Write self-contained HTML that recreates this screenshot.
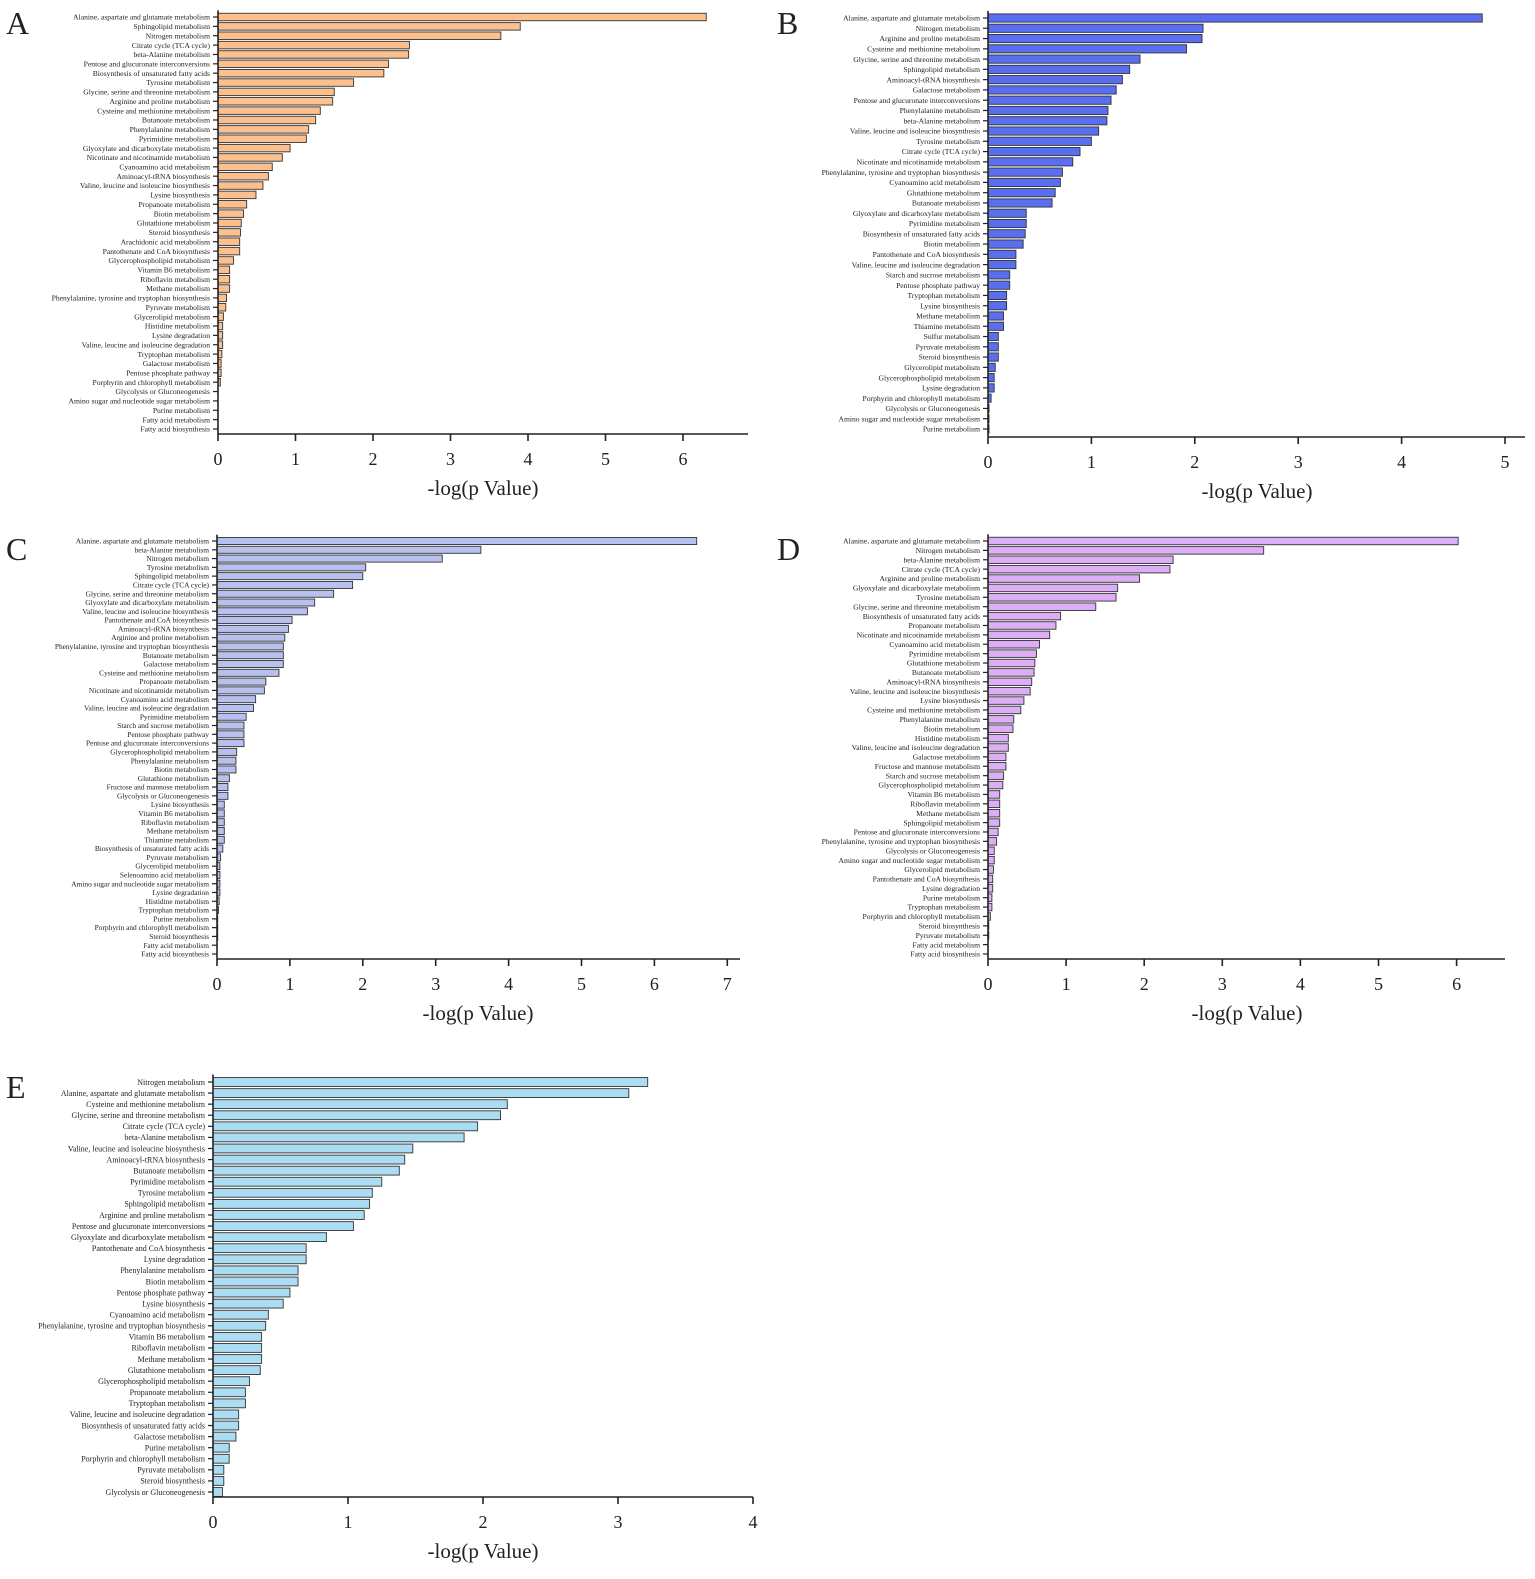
<!DOCTYPE html>
<html><head><meta charset="utf-8"><style>
body{margin:0;background:#fff;width:1535px;height:1574px;overflow:hidden}
svg text{font-family:"Liberation Serif",serif;fill:#222}
</style></head><body>
<svg id="fig" width="1535" height="1574" xmlns="http://www.w3.org/2000/svg"></svg>
<script>
const catsA=["Alanine, aspartate and glutamate metabolism","Sphingolipid metabolism","Nitrogen metabolism","Citrate cycle (TCA cycle)","beta-Alanine metabolism","Pentose and glucuronate interconversions","Biosynthesis of unsaturated fatty acids","Tyrosine metabolism","Glycine, serine and threonine metabolism","Arginine and proline metabolism","Cysteine and methionine metabolism","Butanoate metabolism","Phenylalanine metabolism","Pyrimidine metabolism","Glyoxylate and dicarboxylate metabolism","Nicotinate and nicotinamide metabolism","Cyanoamino acid metabolism","Aminoacyl-tRNA biosynthesis","Valine, leucine and isoleucine biosynthesis","Lysine biosynthesis","Propanoate metabolism","Biotin metabolism","Glutathione metabolism","Steroid biosynthesis","Arachidonic acid metabolism","Pantothenate and CoA biosynthesis","Glycerophospholipid metabolism","Vitamin B6 metabolism","Riboflavin metabolism","Methane metabolism","Phenylalanine, tyrosine and tryptophan biosynthesis","Pyruvate metabolism","Glycerolipid metabolism","Histidine metabolism","Lysine degradation","Valine, leucine and isoleucine degradation","Tryptophan metabolism","Galactose metabolism","Pentose phosphate pathway","Porphyrin and chlorophyll metabolism","Glycolysis or Gluconeogenesis","Amino sugar and nucleotide sugar metabolism","Purine metabolism","Fatty acid metabolism","Fatty acid biosynthesis"];
const valsA=[6.3,3.9,3.65,2.47,2.46,2.2,2.14,1.75,1.5,1.48,1.32,1.26,1.17,1.14,0.93,0.83,0.7,0.65,0.58,0.49,0.37,0.33,0.3,0.29,0.28,0.28,0.2,0.15,0.15,0.15,0.11,0.1,0.07,0.06,0.06,0.06,0.05,0.04,0.04,0.03,0,0,0,0,0];
const ticksA=[0,1,2,3,4,5,6];
const catsB=["Alanine, aspartate and glutamate metabolism","Nitrogen metabolism","Arginine and proline metabolism","Cysteine and methionine metabolism","Glycine, serine and threonine metabolism","Sphingolipid metabolism","Aminoacyl-tRNA biosynthesis","Galactose metabolism","Pentose and glucuronate interconversions","Phenylalanine metabolism","beta-Alanine metabolism","Valine, leucine and isoleucine biosynthesis","Tyrosine metabolism","Citrate cycle (TCA cycle)","Nicotinate and nicotinamide metabolism","Phenylalanine, tyrosine and tryptophan biosynthesis","Cyanoamino acid metabolism","Glutathione metabolism","Butanoate metabolism","Glyoxylate and dicarboxylate metabolism","Pyrimidine metabolism","Biosynthesis of unsaturated fatty acids","Biotin metabolism","Pantothenate and CoA biosynthesis","Valine, leucine and isoleucine degradation","Starch and sucrose metabolism","Pentose phosphate pathway","Tryptophan metabolism","Lysine biosynthesis","Methane metabolism","Thiamine metabolism","Sulfur metabolism","Pyruvate metabolism","Steroid biosynthesis","Glycerolipid metabolism","Glycerophospholipid metabolism","Lysine degradation","Porphyrin and chlorophyll metabolism","Glycolysis or Gluconeogenesis","Amino sugar and nucleotide sugar metabolism","Purine metabolism"];
const valsB=[4.78,2.08,2.07,1.92,1.47,1.37,1.3,1.24,1.19,1.16,1.15,1.07,1.0,0.89,0.82,0.72,0.7,0.65,0.62,0.37,0.37,0.36,0.34,0.27,0.27,0.21,0.21,0.18,0.18,0.15,0.15,0.1,0.1,0.1,0.07,0.06,0.06,0.03,0.01,0.01,0.01];
const ticksB=[0,1,2,3,4,5];
const catsC=["Alanine, aspartate and glutamate metabolism","beta-Alanine metabolism","Nitrogen metabolism","Tyrosine metabolism","Sphingolipid metabolism","Citrate cycle (TCA cycle)","Glycine, serine and threonine metabolism","Glyoxylate and dicarboxylate metabolism","Valine, leucine and isoleucine biosynthesis","Pantothenate and CoA biosynthesis","Aminoacyl-tRNA biosynthesis","Arginine and proline metabolism","Phenylalanine, tyrosine and tryptophan biosynthesis","Butanoate metabolism","Galactose metabolism","Cysteine and methionine metabolism","Propanoate metabolism","Nicotinate and nicotinamide metabolism","Cyanoamino acid metabolism","Valine, leucine and isoleucine degradation","Pyrimidine metabolism","Starch and sucrose metabolism","Pentose phosphate pathway","Pentose and glucuronate interconversions","Glycerophospholipid metabolism","Phenylalanine metabolism","Biotin metabolism","Glutathione metabolism","Fructose and mannose metabolism","Glycolysis or Gluconeogenesis","Lysine biosynthesis","Vitamin B6 metabolism","Riboflavin metabolism","Methane metabolism","Thiamine metabolism","Biosynthesis of unsaturated fatty acids","Pyruvate metabolism","Glycerolipid metabolism","Selenoamino acid metabolism","Amino sugar and nucleotide sugar metabolism","Lysine degradation","Histidine metabolism","Tryptophan metabolism","Purine metabolism","Porphyrin and chlorophyll metabolism","Steroid biosynthesis","Fatty acid metabolism","Fatty acid biosynthesis"];
const valsC=[6.58,3.62,3.09,2.04,2.0,1.86,1.6,1.34,1.24,1.03,0.98,0.93,0.91,0.91,0.91,0.85,0.67,0.65,0.53,0.5,0.4,0.37,0.37,0.37,0.27,0.26,0.26,0.17,0.15,0.15,0.1,0.1,0.1,0.1,0.1,0.08,0.05,0.04,0.04,0.04,0.04,0.03,0.02,0.01,0.01,0.01,0,0];
const ticksC=[0,1,2,3,4,5,6,7];
const catsD=["Alanine, aspartate and glutamate metabolism","Nitrogen metabolism","beta-Alanine metabolism","Citrate cycle (TCA cycle)","Arginine and proline metabolism","Glyoxylate and dicarboxylate metabolism","Tyrosine metabolism","Glycine, serine and threonine metabolism","Biosynthesis of unsaturated fatty acids","Propanoate metabolism","Nicotinate and nicotinamide metabolism","Cyanoamino acid metabolism","Pyrimidine metabolism","Glutathione metabolism","Butanoate metabolism","Aminoacyl-tRNA biosynthesis","Valine, leucine and isoleucine biosynthesis","Lysine biosynthesis","Cysteine and methionine metabolism","Phenylalanine metabolism","Biotin metabolism","Histidine metabolism","Valine, leucine and isoleucine degradation","Galactose metabolism","Fructose and mannose metabolism","Starch and sucrose metabolism","Glycerophospholipid metabolism","Vitamin B6 metabolism","Riboflavin metabolism","Methane metabolism","Sphingolipid metabolism","Pentose and glucuronate interconversions","Phenylalanine, tyrosine and tryptophan biosynthesis","Glycolysis or Gluconeogenesis","Amino sugar and nucleotide sugar metabolism","Glycerolipid metabolism","Pantothenate and CoA biosynthesis","Lysine degradation","Purine metabolism","Tryptophan metabolism","Porphyrin and chlorophyll metabolism","Steroid biosynthesis","Pyruvate metabolism","Fatty acid metabolism","Fatty acid biosynthesis"];
const valsD=[6.02,3.53,2.37,2.33,1.94,1.66,1.64,1.38,0.93,0.87,0.79,0.66,0.62,0.6,0.59,0.56,0.54,0.46,0.42,0.33,0.32,0.26,0.26,0.23,0.23,0.2,0.19,0.15,0.15,0.15,0.15,0.13,0.11,0.08,0.08,0.07,0.06,0.06,0.05,0.05,0.03,0.01,0.01,0,0];
const ticksD=[0,1,2,3,4,5,6];
const catsE=["Nitrogen metabolism","Alanine, aspartate and glutamate metabolism","Cysteine and methionine metabolism","Glycine, serine and threonine metabolism","Citrate cycle (TCA cycle)","beta-Alanine metabolism","Valine, leucine and isoleucine biosynthesis","Aminoacyl-tRNA biosynthesis","Butanoate metabolism","Pyrimidine metabolism","Tyrosine metabolism","Sphingolipid metabolism","Arginine and proline metabolism","Pentose and glucuronate interconversions","Glyoxylate and dicarboxylate metabolism","Pantothenate and CoA biosynthesis","Lysine degradation","Phenylalanine metabolism","Biotin metabolism","Pentose phosphate pathway","Lysine biosynthesis","Cyanoamino acid metabolism","Phenylalanine, tyrosine and tryptophan biosynthesis","Vitamin B6 metabolism","Riboflavin metabolism","Methane metabolism","Glutathione metabolism","Glycerophospholipid metabolism","Propanoate metabolism","Tryptophan metabolism","Valine, leucine and isoleucine degradation","Biosynthesis of unsaturated fatty acids","Galactose metabolism","Purine metabolism","Porphyrin and chlorophyll metabolism","Pyruvate metabolism","Steroid biosynthesis","Glycolysis or Gluconeogenesis"];
const valsE=[3.22,3.08,2.18,2.13,1.96,1.86,1.48,1.42,1.38,1.25,1.18,1.16,1.12,1.04,0.84,0.69,0.69,0.63,0.63,0.57,0.52,0.41,0.39,0.36,0.36,0.36,0.35,0.27,0.24,0.24,0.19,0.19,0.17,0.12,0.12,0.08,0.08,0.07];
const ticksE=[0,1,2,3,4];

const NS="http://www.w3.org/2000/svg";
const svg=document.getElementById('fig');
function mk(tag,attrs,parent){const e=document.createElementNS(NS,tag);for(const k in attrs)e.setAttribute(k,attrs[k]);(parent||svg).appendChild(e);return e;}

function panel(id,letter,lx,ly,cats,vals,ticks,o){
  const g=mk('g',{});
  
  
  const L=mk('text',{x:lx,y:ly,'font-size':32},g);L.textContent=letter;
  
  
  const n=cats.length;
  const pitch=(o.yLast-o.yFirst)/(n-1);
  const xs=v=>o.x0+v*o.unit;
  const ys=i=>o.yFirst+i*pitch;
  const bh=pitch*0.8;
  for(let i=0;i<n;i++){
    const y=ys(i);
    const w=Math.max(0,xs(vals[i])-o.x0);
    if(w>0.3){
      const r=mk('rect',{x:o.x0,y:y-bh/2,width:w,height:bh,fill:o.color,stroke:'#333','stroke-width':0.9},g);
      
      
    }
    mk('line',{x1:o.x0-5,x2:o.x0,y1:y,y2:y,stroke:'#222','stroke-width':1.2},g);
    const t=mk('text',{x:o.x0-8,y:y+o.fs*0.35,'font-size':o.fs,'text-anchor':'end'},g);
    t.textContent=cats[i];
    
    
  }
  const ax=mk('line',{x1:o.x0,x2:o.x0,y1:o.yFirst-pitch/2-2,y2:o.axisY,stroke:'#222','stroke-width':1.6},g);
  
  
  const xa=mk('line',{x1:o.x0,x2:o.xEnd,y1:o.axisY,y2:o.axisY,stroke:'#222','stroke-width':1.6},g);
  
  
  ticks.forEach(v=>{
    const x=xs(v);
    mk('line',{x1:x,x2:x,y1:o.axisY,y2:o.axisY+7,stroke:'#222','stroke-width':1.6},g);
    const t=mk('text',{x:x,y:o.axisY+31,'font-size':18,'text-anchor':'middle'},g);
    t.textContent=v;
    
    
  });
  const ti=mk('text',{x:o.titleX,y:o.axisY+61,'font-size':21,'text-anchor':'middle'},g);
  ti.textContent='-log(p Value)';
  
  
}
panel('a','A',6,34,catsA,valsA,ticksA,{x0:218,unit:77.5,yFirst:17,yLast:429,axisY:434,xEnd:748,color:'#fbc08e',fs:7.6,titleX:483});
panel('b','B',777,34,catsB,valsB,ticksB,{x0:988,unit:103.4,yFirst:18,yLast:429,axisY:437,xEnd:1525,color:'#5a6ff0',fs:7.6,titleX:1257});
panel('c','C',6,560,catsC,valsC,ticksC,{x0:217,unit:72.9,yFirst:541,yLast:954,axisY:959,xEnd:740,color:'#b8c0f0',fs:7.4,titleX:478});
panel('d','D',777,560,catsD,valsD,ticksD,{x0:988,unit:78.1,yFirst:541,yLast:954,axisY:959,xEnd:1505,color:'#dcaef5',fs:7.6,titleX:1247});
panel('e','E',6,1098,catsE,valsE,ticksE,{x0:213,unit:135,yFirst:1082,yLast:1492,axisY:1497,xEnd:753,color:'#aadcf2',fs:8,titleX:483});
</script>
</body></html>
